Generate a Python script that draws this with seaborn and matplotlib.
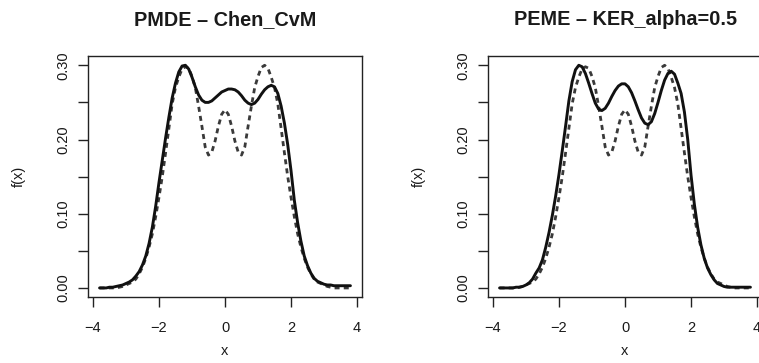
import numpy as np
import pandas as pd
import matplotlib
matplotlib.use('Agg')
import matplotlib.pyplot as plt
import seaborn as sns

sns.set_theme(style='ticks')
plt.rcParams['font.family'] = ['Liberation Sans', 'DejaVu Sans']

# x grid, -3.8 .. 3.8 step 0.1
x_grid = np.round(np.arange(-38, 39) / 10, 1)

# true density (dashed)
true_density = [
    0.000, 0.000, 0.000, 0.000, 0.000, 0.000, 0.001, 0.002, 0.004, 0.006,   # -3.8 .. -2.9
    0.008, 0.012, 0.019, 0.028, 0.040, 0.055, 0.073, 0.096, 0.122, 0.150,   # -2.8 .. -1.9
    0.182, 0.215, 0.248, 0.270, 0.284, 0.295, 0.298, 0.296, 0.285, 0.270,  # -1.8 .. -0.9
    0.245, 0.218, 0.190, 0.179, 0.183, 0.198, 0.218, 0.234, 0.240, 0.234,  # -0.8 .. 0.1
    0.218, 0.198, 0.183, 0.179, 0.190, 0.218, 0.245, 0.270, 0.285, 0.297,  # 0.2 .. 1.1
    0.300, 0.296, 0.284, 0.270, 0.248, 0.215, 0.182, 0.150, 0.122, 0.096,  # 1.2 .. 2.1
    0.073, 0.055, 0.040, 0.028, 0.019, 0.012, 0.008, 0.006, 0.004, 0.002,  # 2.2 .. 3.1
    0.001, 0.000, 0.000, 0.000, 0.000, 0.000, 0.000,                        # 3.2 .. 3.8
]

# PMDE - Chen_CvM estimate (solid, left panel)
pmde_chen = [
    0.000, 0.000, 0.000, 0.001, 0.001, 0.002, 0.003, 0.004, 0.006, 0.008,
    0.011, 0.016, 0.022, 0.031, 0.043, 0.060, 0.082, 0.110, 0.142, 0.172,
    0.202, 0.230, 0.256, 0.276, 0.291, 0.299, 0.300, 0.295, 0.284, 0.271,
    0.260, 0.253, 0.250, 0.250, 0.252, 0.256, 0.260, 0.264, 0.266, 0.268,
    0.268, 0.267, 0.264, 0.259, 0.253, 0.249, 0.247, 0.249, 0.254, 0.261,
    0.267, 0.271, 0.273, 0.271, 0.262, 0.245, 0.222, 0.193, 0.158, 0.118,
    0.088, 0.063, 0.043, 0.030, 0.020, 0.013, 0.009, 0.007, 0.005, 0.004,
    0.004, 0.003, 0.003, 0.003, 0.003, 0.003, 0.003,
]

# PEME - KER_alpha=0.5 estimate (solid, right panel)
peme_ker = [
    0.000, 0.000, 0.000, 0.000, 0.000, 0.001, 0.001, 0.002, 0.004, 0.007,
    0.012, 0.020, 0.027, 0.038, 0.055, 0.075, 0.098, 0.124, 0.153, 0.185,
    0.218, 0.252, 0.278, 0.294, 0.300, 0.298, 0.289, 0.276, 0.262, 0.249,
    0.241, 0.239, 0.242, 0.249, 0.258, 0.266, 0.272, 0.275, 0.275, 0.271,
    0.263, 0.252, 0.240, 0.229, 0.222, 0.220, 0.224, 0.235, 0.250, 0.266,
    0.280, 0.289, 0.292, 0.288, 0.276, 0.262, 0.237, 0.200, 0.152, 0.113,
    0.082, 0.058, 0.040, 0.027, 0.018, 0.011, 0.006, 0.004, 0.002, 0.001,
    0.001, 0.001, 0.001, 0.001, 0.001, 0.001, 0.001,
]

titles = ['PMDE \u2013 Chen_CvM', 'PEME \u2013 KER_alpha=0.5']
estimates = [pmde_chen, peme_ker]
x_ticks = [-4, -2, 0, 2, 4]
y_ticks = [0.00, 0.05, 0.10, 0.15, 0.20, 0.25, 0.30]
y_labels = ['0.00', '', '0.10', '', '0.20', '', '0.30']

fig = plt.figure(figsize=(7.59, 3.63), dpi=100)
fig.patch.set_facecolor('white')
positions = [[88 / 759, 1 - 297 / 363, 274 / 759, 241 / 363],
             [488 / 759, 1 - 297 / 363, 274 / 759, 241 / 363]]

for pos, title, est in zip(positions, titles, estimates):
    ax = fig.add_axes(pos)
    ax.set_facecolor('white')
    df = pd.DataFrame({'x': x_grid, 'true': true_density, 'est': est})
    sns.lineplot(data=df, x='x', y='true', ax=ax, color='#3a3a3a',
                 linewidth=2.0, linestyle=(0, (1.8, 1.5)))
    sns.lineplot(data=df, x='x', y='est', ax=ax, color='#111111', linewidth=2.1)
    ax.set_xlim(-4.15, 4.15)
    ax.set_ylim(-0.0122, 0.3125)
    ax.set_xticks(x_ticks)
    ax.set_xticklabels(['\u22124', '\u22122', '0', '2', '4'])
    ax.set_yticks(y_ticks)
    ax.set_yticklabels(y_labels, rotation=90, va='center')
    ax.tick_params(axis='both', direction='out', length=7, width=1.0,
                   color='#222222', labelsize=10.5, labelcolor='#1a1a1a')
    ax.tick_params(axis='x', pad=10)
    ax.tick_params(axis='y', pad=6)
    for sp in ax.spines.values():
        sp.set_visible(True)
        sp.set_linewidth(1.0)
        sp.set_color('#222222')
    ax.set_xlabel('x', fontsize=10.5, color='#1a1a1a', labelpad=7)
    ax.set_ylabel('f(x)', fontsize=10.5, color='#1a1a1a', labelpad=22)
    ax.set_title(title, fontsize=14.3, fontweight='bold', color='#1a1a1a', pad=22)
    ax.grid(False)

fig.savefig('out.png', dpi=100, facecolor='white')
